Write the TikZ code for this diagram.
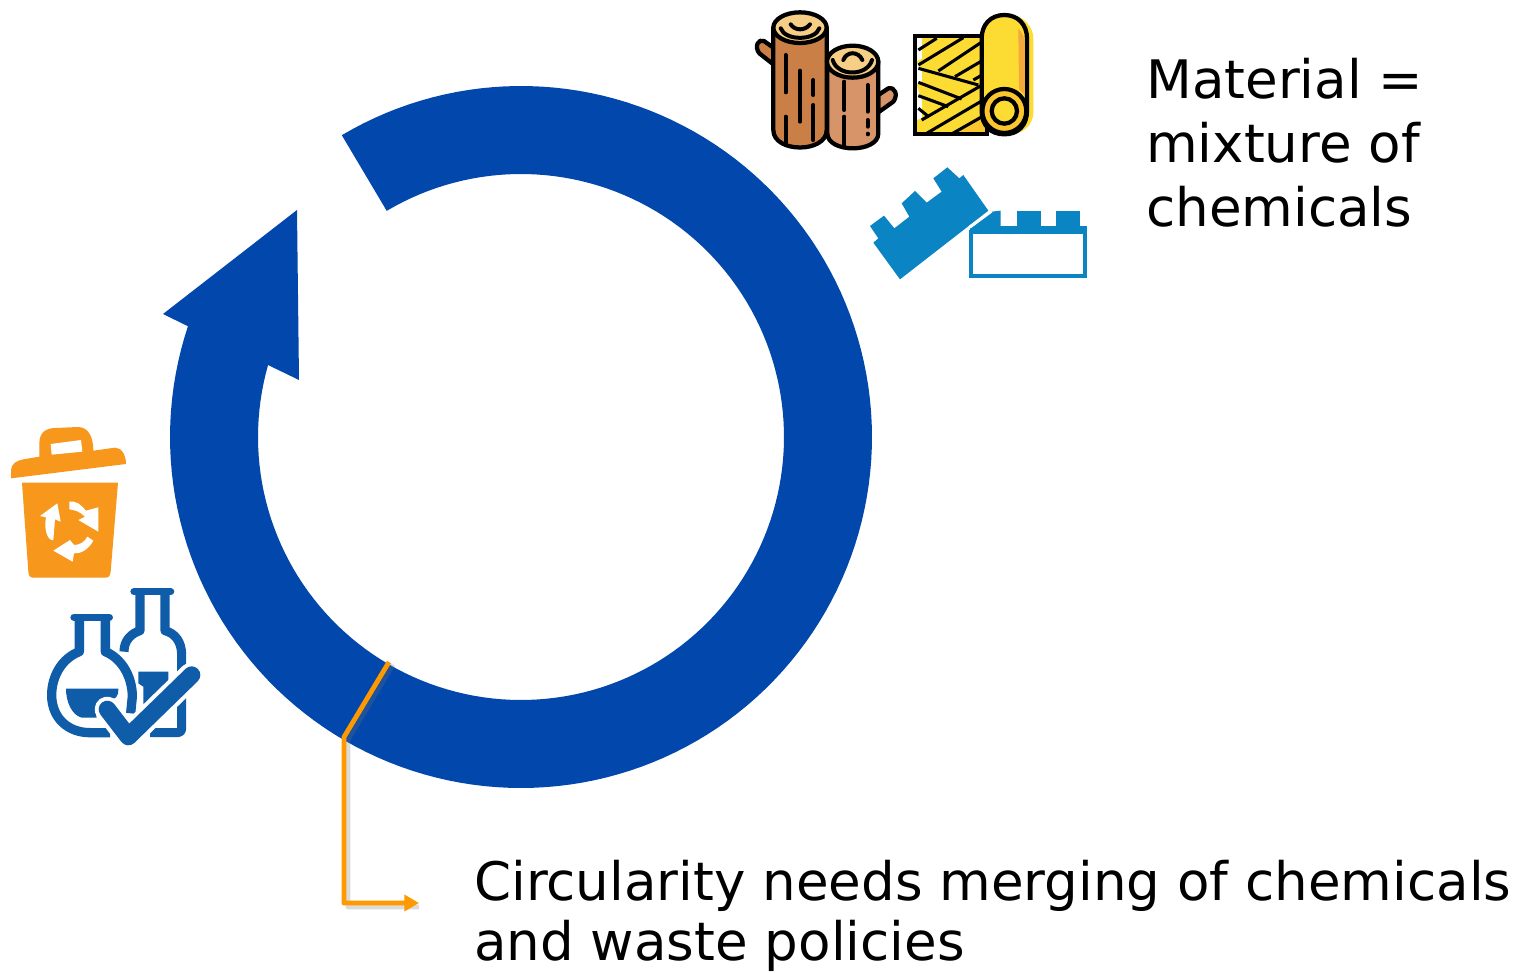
\documentclass[tikz,border=0pt]{standalone}
\usepackage{fontspec}
\setmainfont{DejaVu Sans}
\usetikzlibrary{arrows.meta}
\definecolor{ringblue}{HTML}{0247AB}
\definecolor{lineorange}{HTML}{FF9900}
\definecolor{binorange}{HTML}{F7981D}
\definecolor{flaskblue}{HTML}{0F5CA8}
\definecolor{legoblue}{HTML}{0B84C4}
\definecolor{logdark}{HTML}{C97F45}
\definecolor{loglight}{HTML}{D69468}
\definecolor{logtop}{HTML}{F6CE85}
\definecolor{fabyellow}{HTML}{FCDC32}
\definecolor{fabshade}{HTML}{F5A83C}
\definecolor{fabring}{HTML}{FBC52D}
\tikzset{
  label text/.style={inner sep=0pt,anchor=north west,align=left,font=\fontsize{39.8}{48}\selectfont},
  zoomed/.style={x=0.25pt,y=-0.25pt},
  ink/.style={draw=black,line width=3.2pt,line join=round,line cap=round},
  inkthin/.style={draw=black,line width=3pt,line cap=round},
  fab/.style={draw=black,line width=2.3pt,line cap=butt},
  link/.style={draw=lineorange,line width=3.6pt,line join=round},
  linkshadow/.style={draw=black!55,line width=3.6pt,opacity=.25,line join=round},
}
\begin{document}
\begin{tikzpicture}[x=0.75pt,y=-0.75pt]
\useasboundingbox (0,0) rectangle (1517,973);
\fill[white] (0,0) rectangle (1517,973);
% ring arrow
\fill[ringblue]
  plot[domain=120.7:-198.4,samples=160] ({521+351*cos(\x)},{437-351*sin(\x)})
  -- (163,314) -- (297,210) -- (299,380) -- (268,365)
  -- plot[domain=-195.8:120.7,samples=160] ({521+263*cos(\x)},{437-263*sin(\x)})
  -- cycle;
% connector
\coordinate (ringin) at (389,662);
\coordinate (ringout) at (344,737);
\coordinate (corner) at (344,903);
\coordinate (tip) at (419,903);
\draw[linkshadow] ([xshift=3pt,yshift=-2pt]ringin) -- ([xshift=3pt,yshift=-2pt]ringout) -- ([xshift=3pt,yshift=-3pt]corner) -- ([xshift=0pt,yshift=-3pt]tip);
\draw[link,-{Triangle[length=11pt,width=12pt]}] (ringin) -- (ringout) -- (corner) -- (tip);
% texts
\node[label text] (material) at (1146,58) {Material =\\mixture of\\chemicals};
\node[label text,font=\fontsize{39.8}{45}\selectfont] (circular) at (474,860) {Circularity needs merging of chemicals\\and waste policies};
% logs
\begin{scope}[shift={(750,5)},zoomed]
 \filldraw[ink,fill=logdark] (70,128) -- (42,108) .. controls (25,100) and (12,125) .. (28,145) -- (70,178) -- cycle;
 \filldraw[ink,fill=logdark] (70,68) -- (70,375) .. controls (70,445) and (230,445) .. (230,375) -- (230,68) -- cycle;
 \filldraw[ink,fill=logtop] (150,68) ellipse [x radius=80,y radius=46];
 \draw[inkthin] (92,70) .. controls (105,108) and (195,108) .. (208,70);
 \draw[inkthin] (122,58) .. controls (135,78) and (165,78) .. (180,58);
 \foreach \a/\b/\c in {107/150/262,107/335/420,150/197/350,190/225/270,190/300/405}
   \draw[inkthin] (\a,\b) -- (\a,\c);
 \filldraw[ink,fill=loglight] (385,270) -- (415,250) .. controls (435,245) and (445,270) .. (430,290) -- (385,322) -- cycle;
 \filldraw[ink,fill=loglight] (232,170) -- (232,385) .. controls (232,445) and (385,445) .. (385,385) -- (385,170) -- cycle;
 \filldraw[ink,fill=logtop] (308,170) ellipse [x radius=77,y radius=48];
 \draw[inkthin] (248,165) .. controls (262,215) and (352,215) .. (366,165);
 \draw[inkthin] (280,165) .. controls (290,138) and (325,138) .. (337,165);
 \foreach \a/\b/\c in {283/230/315,283/335/425,353/240/320,353/345/365,353/386/388}
   \draw[inkthin] (\a,\b) -- (\a,\c);
\end{scope}
% fabric roll
\begin{scope}[shift={(905,5)},zoomed]
 \fill[fabyellow] (300,27) .. controls (360,27) and (385,70) .. (385,100) -- (385,320) .. controls (385,365) and (350,390) .. (300,390) -- cycle;
 \fill[white] (35,97) rectangle (240,385);
 \fill[fabyellow] (52,97) rectangle (240,385);
 \fill[fabyellow] (35,170) -- (52,160) -- (52,200) -- cycle;
 \fill[fabyellow] (35,240) -- (52,230) -- (52,290) -- cycle;
 \fill[fabyellow] (35,345) -- (52,340) -- (52,385) -- (35,385) -- cycle;
 \fill[fabring] (140,385) -- (240,320) -- (240,385) -- cycle;
 \begin{scope}
  \clip (34,96) rectangle (238,385);
  \foreach \a/\b/\c/\d in {40/135/95/100, 40/180/175/98, 100/198/235/108, 150/215/235/165, 205/225/235/208, 40/190/220/240, 40/232/170/282, 40/272/130/305, 40/310/72/336, 50/345/235/238, 60/388/235/285, 138/388/235/333}
   \draw[fab] (\a,\b) -- (\c,\d);
 \end{scope}
 \draw[line width=2.9pt,draw=black] (30,92) rectangle (245,388);
 \filldraw[ink,fill=fabyellow] (298,30) .. controls (340,30) and (366,60) .. (366,100) -- (366,318) .. controls (366,360) and (340,388) .. (298,388) .. controls (256,388) and (230,360) .. (230,318) -- (230,100) .. controls (230,60) and (256,30) .. (298,30) -- cycle;
 \fill[fabshade] (340,70) .. controls (352,85) and (359,95) .. (359,110) -- (359,270) -- (342,252) -- cycle;
 \filldraw[ink,fill=fabring] (298,318) circle [radius=66];
 \filldraw[ink,fill=fabyellow] (298,318) circle [radius=38];
\end{scope}
% lego
\begin{scope}[shift={(860,160)},zoomed]
 \fill[legoblue] (30,198) -- (72,167) -- (103,205) -- (148,170) -- (125,130) -- (165,93) -- (200,128) -- (245,95) -- (220,55) -- (262,22) -- (298,55) -- (310,45) -- (385,152) -- (120,358) -- (40,248) -- (55,235) -- cycle;
\end{scope}
\begin{scope}[shift={(740,0)},zoomed]
 \fill[legoblue] (696,680) -- (755,635) -- (782,632) -- (782,680) -- cycle;
 \fill[legoblue] (830,632) rectangle (903,680);
 \fill[legoblue] (948,632) rectangle (1020,680);
 \fill[legoblue] (690,678) rectangle (1040,696);
 \filldraw[draw=legoblue,fill=white,line width=3pt] (694,697) rectangle (1035,827);
 \fill[white] (752,632) -- (757,637) -- (692,685) -- (686,678) -- cycle;
\end{scope}
% bin and flasks
\begin{scope}[shift={(0,420)},zoomed]
 \fill[binorange] (33,175) -- (33,150) .. controls (35,130) and (50,122) .. (70,118) -- (118,110) -- (118,70) .. controls (118,35) and (140,25) .. (165,24) -- (235,21) .. controls (265,22) and (280,50) .. (280,92) -- (345,83) .. controls (365,83) and (378,105) .. (378,132) -- cycle;
 \fill[white] (152,72) -- (243,60) -- (247,95) -- (155,104) -- cycle;
 \fill[binorange] (66,188) -- (354,188) -- (332,455) .. controls (330,470) and (325,473) .. (315,473) -- (100,473) .. controls (90,473) and (86,468) .. (85,455) -- cycle;
 \fill[white] (120,288) -- (172,250) -- (182,305) -- (165,298) -- (160,360) .. controls (145,365) and (130,330) .. (138,292) -- cycle;
 \fill[white] (208,245) .. controls (225,240) and (245,255) .. (258,272) -- (295,262) -- (295,335) -- (235,300) -- (255,290) .. controls (240,275) and (225,270) .. (208,268) -- cycle;
 \fill[white] (262,350) -- (280,362) .. controls (265,390) and (240,402) .. (222,400) -- (218,425) -- (160,392) -- (210,360) -- (222,375) .. controls (240,375) and (255,365) .. (262,350) -- cycle;
 % right bottle
 \draw[flaskblue,line width=6.8pt,line join=round] (420,525) -- (420,632) .. controls (395,640) and (372,660) .. (372,695);
 \draw[flaskblue,line width=6.8pt,line join=round] (495,525) -- (495,632) .. controls (525,640) and (545,665) .. (545,705) -- (545,925) .. controls (545,938) and (535,938) .. (525,938) -- (450,938);
 \draw[flaskblue,line width=5.5pt,line cap=round] (402,515) -- (512,515);
 \fill[flaskblue] (415,755) -- (505,755) -- (505,800) -- (440,860) -- (430,850) -- (430,800) -- (415,790) -- cycle;
 % left flask
 \draw[flaskblue,line width=5.5pt,line cap=round] (222,592) -- (328,592);
 \draw[flaskblue,line width=7pt,line join=round] (238,600) -- (238,695) .. controls (185,715) and (155,770) .. (155,825) .. controls (155,895) and (205,938) .. (270,938) -- (330,938);
 \draw[flaskblue,line width=7pt,line join=round] (316,600) -- (316,695) .. controls (365,715) and (397,770) .. (397,830) -- (392,880);
 \fill[flaskblue] (198,806) -- (355,806) .. controls (358,825) and (345,845) .. (325,836) .. controls (295,830) and (280,860) .. (290,893) -- (245,893) .. controls (215,885) and (198,845) .. (198,806) -- cycle;
 % check mark
 \draw[white,line width=19pt,line cap=round,line join=round] (322,868) -- (385,950) -- (575,765);
 \draw[flaskblue,line width=13pt,line cap=round,line join=round] (322,868) -- (385,950) -- (575,765);
\end{scope}
\end{tikzpicture}
\end{document}
